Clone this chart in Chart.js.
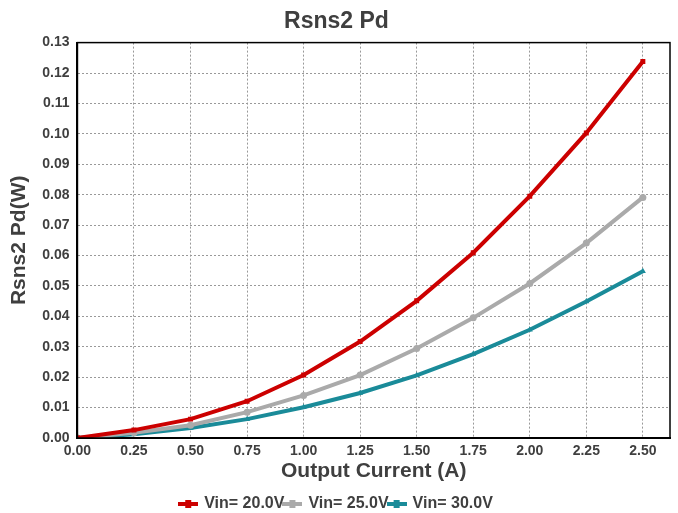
<!DOCTYPE html>
<html>
<head>
<meta charset="UTF-8" />
<title>Rsns2 Pd</title>
<script src="https://cdn.jsdelivr.net/npm/chart.js"></script>
<style>
  html, body { margin: 0; padding: 0; background: #fff; }
  #wrap { width: 678px; height: 513px; }
</style>
</head>
<body>
<div id="wrap"><canvas id="c" width="678" height="513"></canvas></div>
<script>
  const current = [0, 0.25, 0.5, 0.75, 1.0, 1.25, 1.5, 1.75, 2.0, 2.25, 2.5];
  const vin20 = [0, 0.0026, 0.0062, 0.0121, 0.0207, 0.0317, 0.0451, 0.0609, 0.0795, 0.1003, 0.1238];
  const vin25 = [0, 0.0017, 0.0042, 0.0085, 0.0140, 0.0207, 0.0294, 0.0395, 0.0508, 0.0641, 0.0791];
  const vin30 = [0, 0.0012, 0.0033, 0.0062, 0.0101, 0.0148, 0.0206, 0.0276, 0.0356, 0.0449, 0.0548];
  const xTicks = [0, 0.25, 0.5, 0.75, 1.0, 1.25, 1.5, 1.75, 2.0, 2.25, 2.5];
  const yTicks = [0, 0.01, 0.02, 0.03, 0.04, 0.05, 0.06, 0.07, 0.08, 0.09, 0.10, 0.11, 0.12, 0.13];
  const seriesNames = ['Vin= 20.0V', 'Vin= 25.0V', 'Vin= 30.0V'];
  const colors = ['#cc0000', '#aaaaaa', '#1a8b99'];
  const markers = ['rect', 'circle', 'triangle'];

  function pts(vals) { return current.map((x, i) => ({ x: x, y: vals[i] })); }

  // legend swatch: short thick line with a square marker
  function swatch(col) {
    const c = document.createElement('canvas');
    c.width = 20; c.height = 10;
    const g = c.getContext('2d');
    g.fillStyle = col;
    g.fillRect(0, 3, 20, 4);
    g.fillRect(7, 1, 6, 8);
    return c;
  }

  const ink = '#3f3f3f';
  const font = 'Arial, "Liberation Sans", sans-serif';

  new Chart(document.getElementById('c'), {
    type: 'line',
    data: {
      datasets: [vin20, vin25, vin30].map((v, i) => ({
        label: seriesNames[i],
        data: pts(v),
        borderColor: colors[i],
        backgroundColor: colors[i],
        borderWidth: 4,
        pointStyle: markers[i],
        pointRadius: 3.5,
        pointBorderWidth: 0,
        tension: 0
      }))
    },
    options: {
      responsive: false,
      animation: false,
      layout: { padding: { left: 3, right: 8, top: 4, bottom: -9 } },
      plugins: {
        title: {
          display: true, text: 'Rsns2 Pd', color: ink,
          font: { family: font, size: 23, weight: 'bold' },
          padding: { top: 4, bottom: 7 }
        },
        legend: {
          position: 'bottom',
          labels: {
            color: ink,
            font: { family: font, size: 16, weight: 'bold' },
            boxWidth: 20, padding: 0, usePointStyle: true,
            generateLabels: (chart) => chart.data.datasets.map((d, i) => ({
              text: d.label, pointStyle: swatch(colors[i]), fontColor: ink,
              strokeStyle: colors[i], fillStyle: colors[i], lineWidth: 0, datasetIndex: i
            }))
          }
        },
        tooltip: { enabled: false }
      },
      scales: {
        x: {
          type: 'linear', min: 0, max: 2.62,
          afterBuildTicks: (s) => { s.ticks = xTicks.map(v => ({ value: v })); },
          ticks: {
            color: ink, maxRotation: 0, padding: 5, autoSkip: false,
            font: { family: font, size: 14, weight: 'bold' },
            callback: (v) => Number(v).toFixed(2)
          },
          grid: { color: '#999', lineWidth: 1, drawTicks: false },
          border: { color: '#000', width: 2, dash: [2, 2] },
          title: {
            display: true, text: 'Output Current (A)', color: ink,
            font: { family: font, size: 21, weight: 'bold' }, padding: { top: -6, bottom: 12 }
          }
        },
        y: {
          min: 0, max: 0.13,
          afterBuildTicks: (s) => { s.ticks = yTicks.map(v => ({ value: v })); },
          ticks: {
            color: ink, padding: 8, autoSkip: false,
            font: { family: font, size: 14, weight: 'bold' },
            callback: (v) => Number(v).toFixed(2)
          },
          grid: { color: '#999', lineWidth: 1, drawTicks: false },
          border: { color: '#000', width: 2, dash: [2, 2] },
          title: {
            display: true, text: 'Rsns2 Pd(W)', color: ink,
            font: { family: font, size: 21, weight: 'bold' }, padding: { bottom: 2 }
          }
        }
      }
    },
    plugins: [{
      id: 'frame',
      afterDraw(chart) {
        const a = chart.chartArea, g = chart.ctx;
        g.save();
        g.strokeStyle = '#000';
        g.lineWidth = 1.5;
        g.strokeRect(a.left, a.top, a.right - a.left, a.bottom - a.top);
        g.restore();
      }
    }]
  });
</script>
</body>
</html>
